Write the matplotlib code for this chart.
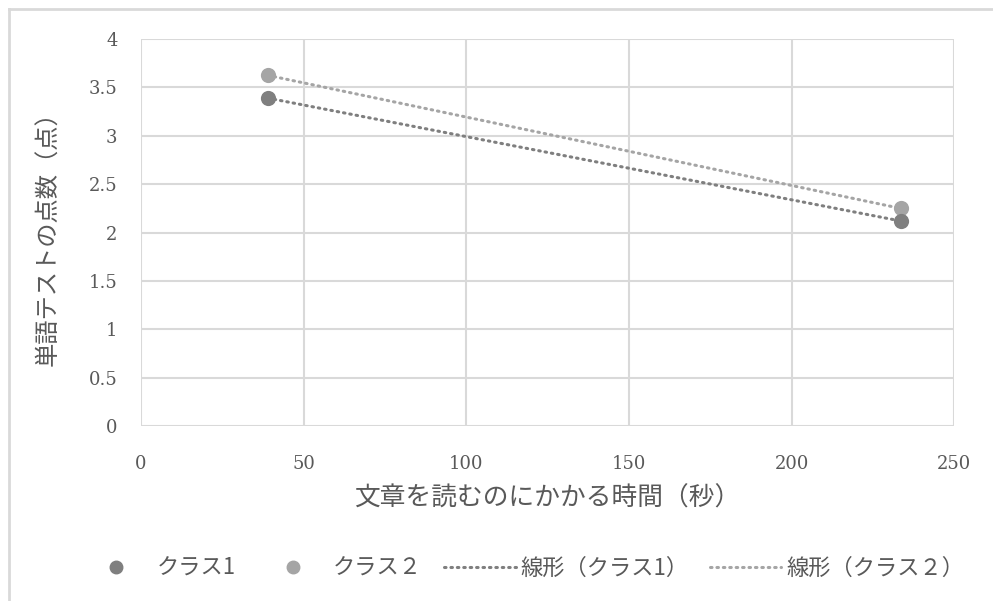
import numpy as np
import matplotlib.pyplot as plt
from matplotlib.lines import Line2D

plt.rcParams['font.family'] = ['Noto Sans CJK JP', 'DejaVu Sans']

# reading time (s) vs. vocabulary test score, per class
class1_x = [39, 233.5]
class1_y = [3.39, 2.12]
class2_x = [39, 233.5]
class2_y = [3.625, 2.25]

labels = ['クラス1', 'クラス２', '線形（クラス1）', '線形（クラス２）']
x_label = '文章を読むのにかかる時間（秒）'
y_label = '単語テストの点数（点）'
x_ticks = [0, 50, 100, 150, 200, 250]
y_ticks = [0, 0.5, 1, 1.5, 2, 2.5, 3, 3.5, 4]

c1 = '#7f7f7f'
c2 = '#a5a5a5'
text_c = '#595959'
grid_c = '#d9d9d9'
dots = (0, (0.5, 1.6))

fig = plt.figure(figsize=(9.93, 6.01), dpi=100)
ax = fig.add_axes([0.142, 0.291, 0.819, 0.644])

ax.scatter(class2_x, class2_y, s=120, color=c2, zorder=3, linewidths=0)
ax.scatter(class1_x, class1_y, s=120, color=c1, zorder=4, linewidths=0)

# linear trend lines over the data range
for xs, ys, c in [(class1_x, class1_y, c1), (class2_x, class2_y, c2)]:
    k, b = np.polyfit(xs, ys, 1)
    tx = np.array([min(xs), max(xs)])
    ax.plot(tx, k * tx + b, color=c, lw=2.2, linestyle=dots,
            dash_capstyle='round', zorder=5)

ax.set_xlim(0, 250)
ax.set_ylim(0, 4)
ax.set_xticks(x_ticks)
ax.set_yticks(y_ticks)
ax.set_xticklabels([str(t) for t in x_ticks])
ax.set_yticklabels([f'{t:g}' for t in y_ticks])
for lab in ax.get_xticklabels() + ax.get_yticklabels():
    lab.set_family('DejaVu Serif')
    lab.set_fontsize(13)
    lab.set_color(text_c)
ax.tick_params(length=0)
ax.tick_params(axis='y', pad=17)
ax.tick_params(axis='x', pad=21)
ax.grid(True, color=grid_c, lw=1.5)
ax.set_axisbelow(True)
for s in ax.spines.values():
    s.set_visible(False)

ax.set_xlabel(x_label, fontsize=18.5, color=text_c, labelpad=9)
ax.set_ylabel(y_label, fontsize=17.5, color=text_c, labelpad=20)

handles = [
    Line2D([], [], marker='o', ls='', color=c1, markersize=9),
    Line2D([], [], marker='o', ls='', color=c2, markersize=9),
    Line2D([], [], color=c1, lw=2.2, ls=dots, dash_capstyle='round'),
    Line2D([], [], color=c2, lw=2.2, ls=dots, dash_capstyle='round'),
]
leg = fig.legend(handles, labels, loc='center', bbox_to_anchor=(0.526, 0.055),
                 ncol=4, frameon=False, fontsize=16, handlelength=3.2,
                 columnspacing=1.0, handletextpad=0.2)
for t in leg.get_texts():
    t.set_color(text_c)

# chart area border (top and left edges)
fig.add_artist(Line2D([9 / 993, 1], [1 - 9 / 601] * 2, color=grid_c, lw=2))
fig.add_artist(Line2D([9 / 993] * 2, [0, 1 - 9 / 601], color=grid_c, lw=2))

fig.savefig('out.png', dpi=100)
